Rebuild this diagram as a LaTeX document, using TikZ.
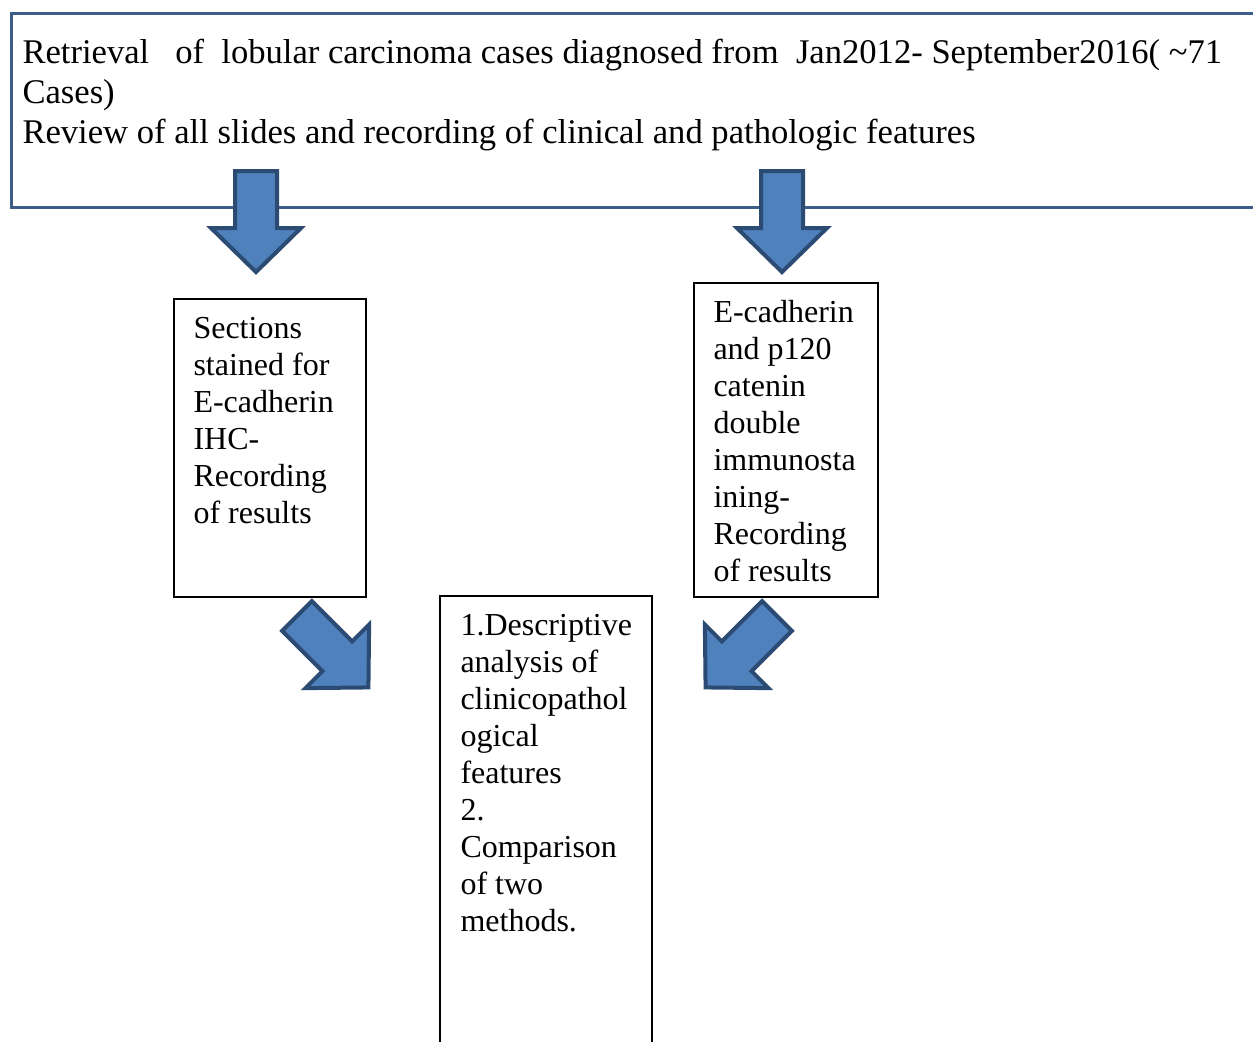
\documentclass[tikz,border=0pt]{standalone}
\usepackage{fontspec}
\setmainfont{Liberation Serif}
\usetikzlibrary{positioning}
\definecolor{arrowblue}{HTML}{4F81BD}
\definecolor{arrowedge}{HTML}{2B4B72}
\definecolor{frameblue}{HTML}{3B5D87}

\newcommand{\boxtext}[3]{\parbox[t][#1][t]{#2}{\raggedright\strut #3}}

\begin{document}
\begin{tikzpicture}[x=0.5pt, y=-0.5pt,
		flowbox/.style={draw, line width=1pt, anchor=north west, inner xsep=10pt, inner ysep=7pt,
			font=\fontsize{16}{18.5}\selectfont},
		pics/blockarrow/.style={code={
			\draw[fill=arrowblue, draw=arrowedge, line width=2pt, line join=miter]
				(-21,0) -- (21,0) -- (21,57) -- (45,57) -- (0,101) -- (-45,57) -- (-21,57) -- cycle;
		}}]
	\useasboundingbox (0,0) rectangle (1253,1041);
	\clip (0,0) rectangle (1253,1041);
	\fill[white] (0,0) rectangle (1253,1041);

	\node[draw=frameblue, line width=1.5pt, anchor=north west, inner xsep=5.5pt, inner ysep=11pt,
		font=\fontsize{17.3}{20}\selectfont] (retrieval) at (10,12) {
		\boxtext{75pt}{668pt}{Retrieval\ \ \ of\ \ lobular carcinoma cases diagnosed from\ \ Jan2012- September2016( \textasciitilde71\\
			Cases)\\
			Review of all slides and recording of clinical and pathologic features}
	};

	\node[flowbox] (stain) at (172.5,298) {
		\boxtext{135pt}{76pt}{Sections\\ stained for\\ E-cadherin\\ IHC-\\ Recording\\ of results}
	};
	\node[flowbox] (double) at (692.5,282) {
		\boxtext{143pt}{72pt}{E-cadherin\\ and p120\\ catenin\\ double\\ immunosta\\ ining-\\ Recording\\ of results}
	};
	\node[flowbox, inner xsep=10.5pt] (analysis) at (438.5,595) {
		\boxtext{218.5pt}{85pt}{1.Descriptive\\ analysis of\\ clinicopathol\\ ogical\\ features\\ 2.\\ Comparison\\ of two\\ methods.}
	};

	\pic at (256,171) {blockarrow};
	\pic at (782,171) {blockarrow};
	\pic[rotate=45] at (297,616) {blockarrow};
	\pic[rotate=-45] at (777,616) {blockarrow};
\end{tikzpicture}
\end{document}
